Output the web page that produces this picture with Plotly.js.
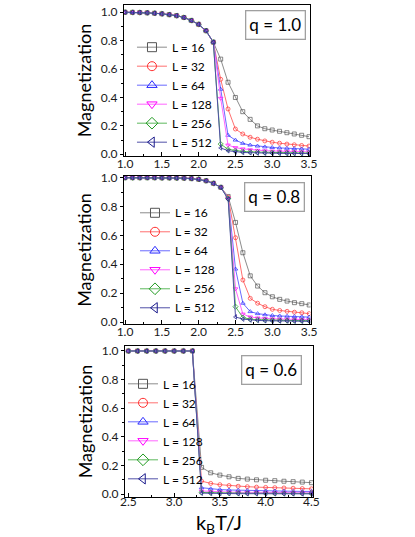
<!DOCTYPE html>
<html>
<head>
<meta charset="utf-8">
<script src="https://cdn.plot.ly/plotly-3.0.1.min.js"></script>
<style>
  html, body { margin: 0; padding: 0; background: #fff; }
  #chart { width: 415px; height: 537px; }
</style>
</head>
<body>
<div id="chart"></div>
<script>
// temperatures (kB T / J)
var tempA = [1.0, 1.1, 1.2, 1.3, 1.4, 1.5, 1.6, 1.7, 1.8, 1.9, 2.0, 2.1, 2.2,
             2.3, 2.4, 2.5, 2.6, 2.7, 2.8, 2.9, 3.0, 3.1, 3.2, 3.3, 3.4, 3.5];
var tempB = [2.5, 2.6, 2.7, 2.8, 2.9, 3.0, 3.1, 3.2, 3.3, 3.4, 3.5,
             3.6, 3.7, 3.8, 3.9, 4.0, 4.1, 4.2, 4.3, 4.4, 4.5];

var sizeNames = ["L = 16", "L = 32", "L = 64", "L = 128", "L = 256", "L = 512"];

// q = 1.0
var q10_L16  = [1.0, 0.999, 0.998, 0.996, 0.993, 0.989, 0.983, 0.976, 0.963, 0.942, 0.915, 0.87, 0.789,
                0.67, 0.507, 0.40, 0.30, 0.246, 0.20, 0.18, 0.171, 0.162, 0.152, 0.143, 0.134, 0.124];
var q10_L32  = [1.0, 0.999, 0.998, 0.996, 0.993, 0.989, 0.983, 0.976, 0.963, 0.942, 0.915, 0.87, 0.789,
                0.528, 0.319, 0.178, 0.143, 0.12, 0.106, 0.094, 0.085, 0.078, 0.072, 0.067, 0.062, 0.058];
var q10_L64  = [1.0, 0.999, 0.998, 0.996, 0.993, 0.989, 0.983, 0.976, 0.963, 0.942, 0.915, 0.87, 0.789,
                0.458, 0.134, 0.10, 0.077, 0.065, 0.058, 0.052, 0.048, 0.045, 0.042, 0.04, 0.038, 0.036];
var q10_L128 = [1.0, 0.999, 0.998, 0.996, 0.993, 0.989, 0.983, 0.976, 0.963, 0.942, 0.915, 0.87, 0.789,
                0.394, 0.065, 0.047, 0.038, 0.032, 0.028, 0.025, 0.023, 0.021, 0.02, 0.019, 0.018, 0.017];
var q10_L256 = [1.0, 0.999, 0.998, 0.996, 0.993, 0.989, 0.983, 0.976, 0.963, 0.942, 0.915, 0.87, 0.789,
                0.072, 0.035, 0.025, 0.02, 0.017, 0.015, 0.013, 0.012, 0.011, 0.01, 0.01, 0.009, 0.009];
var q10_L512 = [1.0, 0.999, 0.998, 0.996, 0.993, 0.989, 0.983, 0.976, 0.963, 0.942, 0.915, 0.87, 0.789,
                0.045, 0.025, 0.017, 0.013, 0.011, 0.009, 0.008, 0.007, 0.007, 0.006, 0.006, 0.005, 0.005];

// q = 0.8
var q08_L16  = [1.0, 1.0, 1.0, 1.0, 1.0, 0.999, 0.999, 0.998, 0.997, 0.994, 0.989, 0.979, 0.961,
                0.933, 0.87, 0.69, 0.48, 0.32, 0.249, 0.203, 0.175, 0.157, 0.145, 0.134, 0.127, 0.118];
var q08_L32  = [1.0, 1.0, 1.0, 1.0, 1.0, 0.999, 0.999, 0.998, 0.997, 0.994, 0.989, 0.979, 0.961,
                0.933, 0.865, 0.584, 0.291, 0.164, 0.13, 0.106, 0.088, 0.08, 0.074, 0.068, 0.064, 0.058];
var q08_L64  = [1.0, 1.0, 1.0, 1.0, 1.0, 0.999, 0.999, 0.998, 0.997, 0.994, 0.989, 0.979, 0.961,
                0.933, 0.86, 0.367, 0.13, 0.072, 0.058, 0.05, 0.045, 0.042, 0.04, 0.038, 0.036, 0.034];
var q08_L128 = [1.0, 1.0, 1.0, 1.0, 1.0, 0.999, 0.999, 0.998, 0.997, 0.994, 0.989, 0.979, 0.961,
                0.933, 0.858, 0.23, 0.055, 0.035, 0.028, 0.024, 0.022, 0.02, 0.019, 0.018, 0.017, 0.016];
var q08_L256 = [1.0, 1.0, 1.0, 1.0, 1.0, 0.999, 0.999, 0.998, 0.997, 0.994, 0.989, 0.979, 0.961,
                0.933, 0.855, 0.106, 0.03, 0.02, 0.016, 0.014, 0.012, 0.011, 0.01, 0.01, 0.009, 0.009];
var q08_L512 = [1.0, 1.0, 1.0, 1.0, 1.0, 0.999, 0.999, 0.998, 0.997, 0.994, 0.989, 0.979, 0.961,
                0.933, 0.85, 0.035, 0.02, 0.014, 0.011, 0.009, 0.008, 0.007, 0.007, 0.006, 0.006, 0.005];

// q = 0.6
var q06_L16  = [1.0, 1.0, 1.0, 1.0, 1.0, 1.0, 1.0, 1.0,
                0.187, 0.149, 0.133, 0.121, 0.11, 0.105, 0.1, 0.097, 0.094, 0.09, 0.087, 0.084, 0.08];
var q06_L32  = [1.0, 1.0, 1.0, 1.0, 1.0, 1.0, 1.0, 1.0,
                0.091, 0.075, 0.066, 0.06, 0.055, 0.052, 0.049, 0.047, 0.045, 0.043, 0.041, 0.039, 0.037];
var q06_L64  = [1.0, 1.0, 1.0, 1.0, 1.0, 1.0, 1.0, 1.0,
                0.045, 0.037, 0.032, 0.029, 0.027, 0.025, 0.024, 0.023, 0.022, 0.021, 0.02, 0.019, 0.019];
var q06_L128 = [1.0, 1.0, 1.0, 1.0, 1.0, 1.0, 1.0, 1.0,
                0.022, 0.018, 0.016, 0.014, 0.013, 0.012, 0.012, 0.011, 0.011, 0.01, 0.01, 0.01, 0.009];
var q06_L256 = [1.0, 1.0, 1.0, 1.0, 1.0, 1.0, 1.0, 1.0,
                0.012, 0.01, 0.008, 0.007, 0.007, 0.006, 0.006, 0.006, 0.005, 0.005, 0.005, 0.005, 0.005];
var q06_L512 = [1.0, 1.0, 1.0, 1.0, 1.0, 1.0, 1.0, 1.0,
                0.007, 0.005, 0.004, 0.004, 0.003, 0.003, 0.003, 0.003, 0.003, 0.002, 0.002, 0.002, 0.002];

// styling per system size
var markerSymbols = ["square-open", "circle-open", "triangle-up-open",
                     "triangle-down-open", "diamond-open", "triangle-left-open"];
var markerColors = ["#555555", "#ff3030", "#2a2aff", "#ff00ff", "#1f9a1f", "#1c1c8c"];
var lineColors   = ["#8c8c8c", "#ff7070", "#6a6aff", "#ff66ff", "#5cb85c", "#5050a8"];

// Helper to build the six traces of one panel (+ legend entries with bigger symbols)
function makePanel(xs, series, xaxis, yaxis, legendName) {
    var traces = [];
    for (var i = 0; i < series.length; i++) {
        traces.push({
            x: xs,
            y: series[i],
            name: sizeNames[i],
            type: "scatter",
            mode: "lines+markers",
            xaxis: xaxis,
            yaxis: yaxis,
            showlegend: false,
            line: {color: lineColors[i], width: 1},
            marker: {
                symbol: markerSymbols[i],
                size: 4,
                color: markerColors[i],
                line: {color: markerColors[i], width: 0.7}
            }
        });
    }
    // legend-only entries, no data points
    for (var j = 0; j < series.length; j++) {
        traces.push({
            x: [null],
            y: [null],
            name: sizeNames[j],
            type: "scatter",
            mode: "lines+markers",
            xaxis: xaxis,
            yaxis: yaxis,
            legend: legendName,
            line: {color: lineColors[j], width: 1},
            marker: {
                symbol: markerSymbols[j],
                size: 9,
                color: markerColors[j],
                line: {color: markerColors[j], width: 1}
            }
        });
    }
    return traces;
}

var data = []
    .concat(makePanel(tempA, [q10_L16, q10_L32, q10_L64, q10_L128, q10_L256, q10_L512], "x", "y", "legend"))
    .concat(makePanel(tempA, [q08_L16, q08_L32, q08_L64, q08_L128, q08_L256, q08_L512], "x2", "y2", "legend2"))
    .concat(makePanel(tempB, [q06_L16, q06_L32, q06_L64, q06_L128, q06_L256, q06_L512], "x3", "y3", "legend3"));

// shared axis look
function xAxis(domain, range, anchor) {
    return {
        domain: domain, range: range, anchor: anchor,
        dtick: 0.5, tickformat: ".1f",
        ticks: "inside", ticklen: 4, tickwidth: 1, tickcolor: "#000",
        minor: {dtick: 0.25, ticks: "inside", ticklen: 2, tickcolor: "#000"},
        ticklabelstandoff: -3,
        showline: true, linecolor: "#000", linewidth: 1, mirror: true,
        showgrid: false, zeroline: false,
        tickfont: {size: 12, color: "#1a1a1a"}
    };
}
function yAxis(domain, range, anchor) {
    return {
        domain: domain, range: range, anchor: anchor,
        dtick: 0.2, tickformat: ".1f",
        ticks: "outside", ticklen: 3, tickwidth: 1, tickcolor: "#000",
        minor: {dtick: 0.1, ticks: "outside", ticklen: 2, tickcolor: "#000"},
        showline: true, linecolor: "#000", linewidth: 1, mirror: true,
        showgrid: false, zeroline: false,
        tickfont: {size: 12, color: "#1a1a1a"},
        title: {text: "Magnetization", font: {size: 18, color: "#000"}, standoff: 4}
    };
}
// top / right tick marks pointing inward
function topAxis(over, anchor, range) {
    return {
        overlaying: over, anchor: anchor, side: "top", range: range,
        dtick: 0.5, ticks: "inside", ticklen: 4, tickcolor: "#000",
        minor: {dtick: 0.25, ticks: "inside", ticklen: 2, tickcolor: "#000"},
        showticklabels: false, showline: false, showgrid: false, zeroline: false
    };
}
function rightAxis(over, anchor, range) {
    return {
        overlaying: over, anchor: anchor, side: "right", range: range,
        dtick: 0.2, ticks: "inside", ticklen: 4, tickcolor: "#000",
        minor: {dtick: 0.1, ticks: "inside", ticklen: 2, tickcolor: "#000"},
        showticklabels: false, showline: false, showgrid: false, zeroline: false
    };
}
function legendAt(x, y) {
    return {
        x: x, y: y, xanchor: "left", yanchor: "middle",
        bgcolor: "rgba(0,0,0,0)", borderwidth: 0,
        font: {size: 12, color: "#000"},
        tracegroupgap: 0
    };
}
function qLabel(text, x, y) {
    return {
        text: text, xref: "paper", yref: "paper", x: x, y: y,
        xanchor: "center", yanchor: "middle", showarrow: false,
        font: {size: 17, color: "#000"},
        bordercolor: "#a0a0a0", borderwidth: 1.3, borderpad: 3, bgcolor: "#fff"
    };
}

var rangeX1 = [0.986, 3.514], rangeX2 = [0.986, 3.518], rangeX3 = [2.464, 4.517];
var rangeY1 = [-0.012, 1.051], rangeY2 = [-0.014, 1.012], rangeY3 = [-0.02, 1.035];

var xa3 = xAxis([0.3012, 0.7542], rangeX3, "y3");
xa3.ticklabelstandoff = -6;
xa3.title = {text: "k<sub>B</sub>T/J", font: {size: 20, color: "#000"}};

var layout = {
    width: 415, height: 537,
    margin: {l: 0, r: 0, t: 0, b: 0},
    paper_bgcolor: "#fff", plot_bgcolor: "#fff",
    font: {family: "Lato, 'Open Sans', sans-serif", color: "#000"},
    showlegend: true,
    xaxis:  xAxis([0.2988, 0.7470], rangeX1, "y"),
    yaxis:  yAxis([0.7095, 0.9907], rangeY1, "x"),
    xaxis2: xAxis([0.2988, 0.7482], rangeX2, "y2"),
    yaxis2: yAxis([0.3966, 0.6723], rangeY2, "x2"),
    xaxis3: xa3,
    yaxis3: yAxis([0.0745, 0.3557], rangeY3, "x3"),
    xaxis4: topAxis("x", "y", rangeX1),
    xaxis5: topAxis("x2", "y2", rangeX2),
    xaxis6: topAxis("x3", "y3", rangeX3),
    yaxis4: rightAxis("y", "x", rangeY1),
    yaxis5: rightAxis("y2", "x2", rangeY2),
    yaxis6: rightAxis("y3", "x3", rangeY3),
    legend:  legendAt(0.318, 0.8237),
    legend2: legendAt(0.3253, 0.5153),
    legend3: legendAt(0.2964, 0.1968),
    annotations: [
        qLabel("q = 1.0", 0.6627, 0.9534),
        qLabel("q = 0.8", 0.6614, 0.6331),
        qLabel("q = 0.6", 0.6547, 0.3119)
    ]
};

Plotly.newPlot("chart", data, layout, {staticPlot: true, displayModeBar: false});
</script>
</body>
</html>
